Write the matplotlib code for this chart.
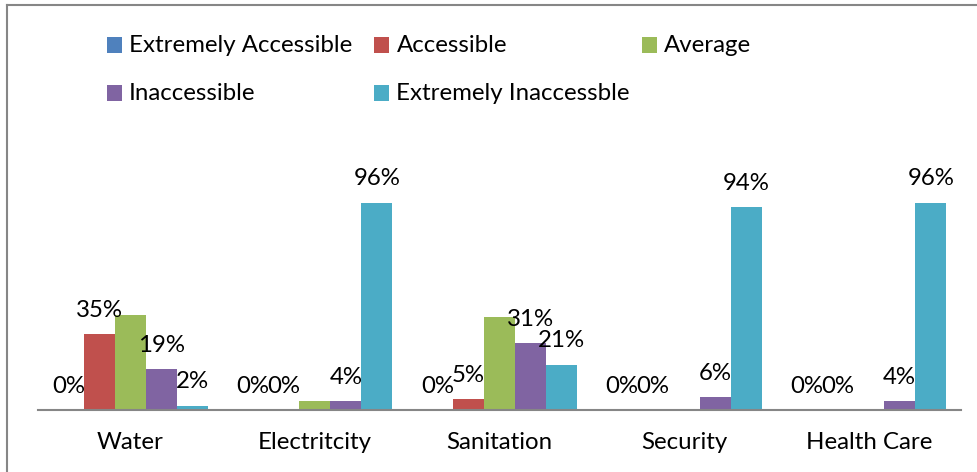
import matplotlib
matplotlib.use("Agg")
import matplotlib.pyplot as plt
from matplotlib.patches import Rectangle
from matplotlib.lines import Line2D
import numpy as np

plt.rcParams['font.family'] = ['Lato', 'DejaVu Sans']

categories = ["Water", "Electritcity", "Sanitation", "Security", "Health Care"]
series_names = ["Extremely Accessible", "Accessible", "Average",
                "Inaccessible", "Extremely Inaccessble"]
extremely_accessible = [0, 0, 0, 0, 0]
accessible = [35, 0, 5, 0, 0]
average = [44, 4, 43, 0, 0]
inaccessible = [19, 4, 31, 6, 4]
extremely_inaccessible = [2, 96, 21, 94, 96]
series_values = [extremely_accessible, accessible, average,
                 inaccessible, extremely_inaccessible]
# the "Average" series carries no data labels
show_labels = [True, True, False, True, True]
colors = ["#4F81BD", "#C0504D", "#9BBB59", "#8064A2", "#4BACC6"]

FS = 17.3
W, H = 978, 472
fig = plt.figure(figsize=(W / 100, H / 100), dpi=100)
fig.patch.set_facecolor("white")

ax = fig.add_axes([38 / W, (H - 410) / H, (961 - 38) / W, 216 / H])
x = np.arange(len(categories))
bar_w = 0.168
n = len(series_values)
for i, (name, vals, col, lab) in enumerate(zip(series_names, series_values,
                                                 colors, show_labels)):
    offs = (i - (n - 1) / 2) * bar_w
    bars = ax.bar(x + offs, vals, width=bar_w, color=col, label=name,
                  edgecolor="none", zorder=2)
    if lab:
        ax.bar_label(bars, labels=[f"{v}%" for v in vals], padding=9.5,
                     fontsize=FS, color="black")

ax.set_xlim(-0.5, len(categories) - 0.5)
ax.set_ylim(0, 100)
ax.set_xticks(x)
ax.set_xticklabels(categories, fontsize=FS)
ax.tick_params(axis="x", length=0, pad=16)
ax.set_yticks([])
for side in ["top", "right", "left"]:
    ax.spines[side].set_visible(False)
ax.spines["bottom"].set_color("#868686")
ax.spines["bottom"].set_linewidth(1.5)
ax.spines["bottom"].set_zorder(3)
ax.set_facecolor("none")

# legend laid out in three equal-width columns
for i, (name, col) in enumerate(zip(series_names, colors)):
    row, c = divmod(i, 3)
    px = 107 + c * 267.5
    py = 45 + row * 48
    fig.patches.append(Rectangle((px / W, (H - py - 7.5) / H), 15 / W, 15 / H,
                                 transform=fig.transFigure, facecolor=col,
                                 edgecolor="none"))
    fig.text((px + 22) / W, (H - py) / H, name, fontsize=FS,
             va="center", ha="left", color="black")

# chart frame
frame_kw = dict(transform=fig.transFigure, color="#868686", linewidth=1.5)
fig.lines.append(Line2D([7.5 / W, 7.5 / W], [0, (H - 5) / H], **frame_kw))
fig.lines.append(Line2D([7.5 / W, 1], [(H - 5) / H, (H - 5) / H], **frame_kw))

fig.savefig("out.png", dpi=100)
